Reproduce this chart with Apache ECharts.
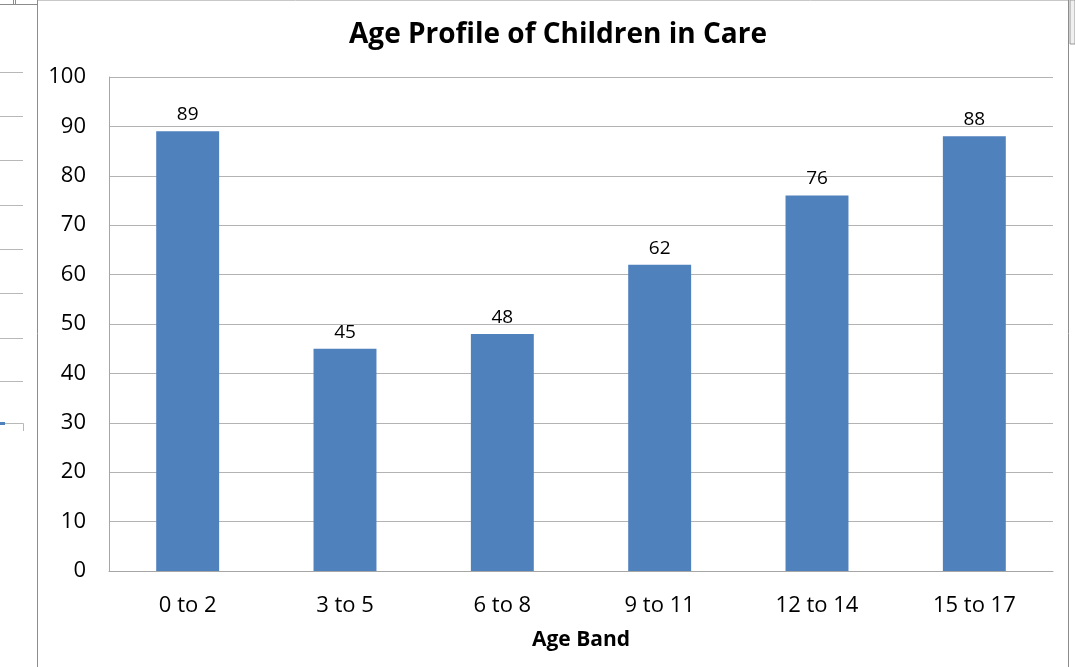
<!DOCTYPE html>
<html>
<head>
<meta charset="utf-8">
<script src="https://cdn.jsdelivr.net/npm/echarts@6/dist/echarts.min.js"></script>
<style>
html,body{margin:0;padding:0;background:#fff;}
#c{width:1075px;height:667px;}
</style>
</head>
<body>
<div id="c"></div>
<script>
var categories = ['0 to 2', '3 to 5', '6 to 8', '9 to 11', '12 to 14', '15 to 17'];
var values = [89, 45, 48, 62, 76, 88];
var titleText = 'Age Profile of Children in Care';
var xAxisName = 'Age Band';

var chart = echarts.init(document.getElementById('c'));
var font = '"Open Sans", "Liberation Sans", sans-serif';

// decorative remnants of a neighbouring sheet object at the left edge
var stubYs = [72, 116, 160, 205, 249, 293, 338, 381];
var deco = stubYs.map(function (y) {
  return {type: 'line', shape: {x1: 0, y1: y + 0.5, x2: 23, y2: y + 0.5}, style: {stroke: '#b8b8b8', lineWidth: 1}};
});
deco.push(
  {type: 'polyline', shape: {points: [[0, 423.5], [23.5, 423.5], [23.5, 431]]}, style: {stroke: '#b8b8b8', lineWidth: 1, fill: null}},
  {type: 'rect', shape: {x: 0, y: 422, width: 5, height: 3}, style: {fill: '#4f81bd'}},
  {type: 'line', shape: {x1: 0, y1: 4.5, x2: 38, y2: 4.5}, style: {stroke: '#8c8c8c', lineWidth: 1}},
  {type: 'line', shape: {x1: 13.5, y1: 0, x2: 13.5, y2: 4}, style: {stroke: '#8c8c8c', lineWidth: 1}},
  {type: 'line', shape: {x1: 15.5, y1: 0, x2: 15.5, y2: 4}, style: {stroke: '#8c8c8c', lineWidth: 1}},
  {type: 'line', shape: {x1: 37.5, y1: 0, x2: 37.5, y2: 667}, style: {stroke: '#8c8c8c', lineWidth: 1}},
  {type: 'line', shape: {x1: 1068.5, y1: 0, x2: 1068.5, y2: 667}, style: {stroke: '#8c8c8c', lineWidth: 1}},
  {type: 'line', shape: {x1: 38, y1: 0.5, x2: 1068, y2: 0.5}, style: {stroke: '#c8c8c8', lineWidth: 1}},
  {type: 'rect', shape: {x: 1070, y: 0, width: 5, height: 44}, style: {fill: '#f0f0f0', stroke: '#9a9a9a', lineWidth: 1}}
);

chart.setOption({
  backgroundColor: '#fff',
  animation: false,
  title: {
    text: titleText,
    left: 553, top: 16, textAlign: 'center',
    textStyle: {fontFamily: font, fontSize: 28, fontWeight: 'bold', color: '#000'}
  },
  grid: {left: 109, right: 22, top: 77, bottom: 96},
  xAxis: {
    type: 'category',
    data: categories,
    name: xAxisName,
    nameLocation: 'middle',
    nameGap: 59,
    nameTextStyle: {fontFamily: font, fontSize: 21, fontWeight: 'bold', color: '#000'},
    axisLine: {lineStyle: {color: '#a6a6a6', width: 1}},
    axisTick: {show: false},
    axisLabel: {fontFamily: font, fontSize: 22, color: '#000', margin: 24}
  },
  yAxis: {
    type: 'value',
    min: 0, max: 100, interval: 10,
    axisLine: {show: true, lineStyle: {color: '#a6a6a6', width: 1}},
    axisTick: {show: false},
    axisLabel: {fontFamily: font, fontSize: 22, color: '#000', margin: 23},
    splitLine: {lineStyle: {color: '#b3b3b3', width: 1}}
  },
  series: [{
    type: 'bar',
    data: values,
    barWidth: '40%',
    itemStyle: {color: '#4f81bd'},
    label: {show: true, position: 'top', distance: 7, fontFamily: font, fontSize: 19, color: '#000'}
  }],
  graphic: deco
});
</script>
</body>
</html>
